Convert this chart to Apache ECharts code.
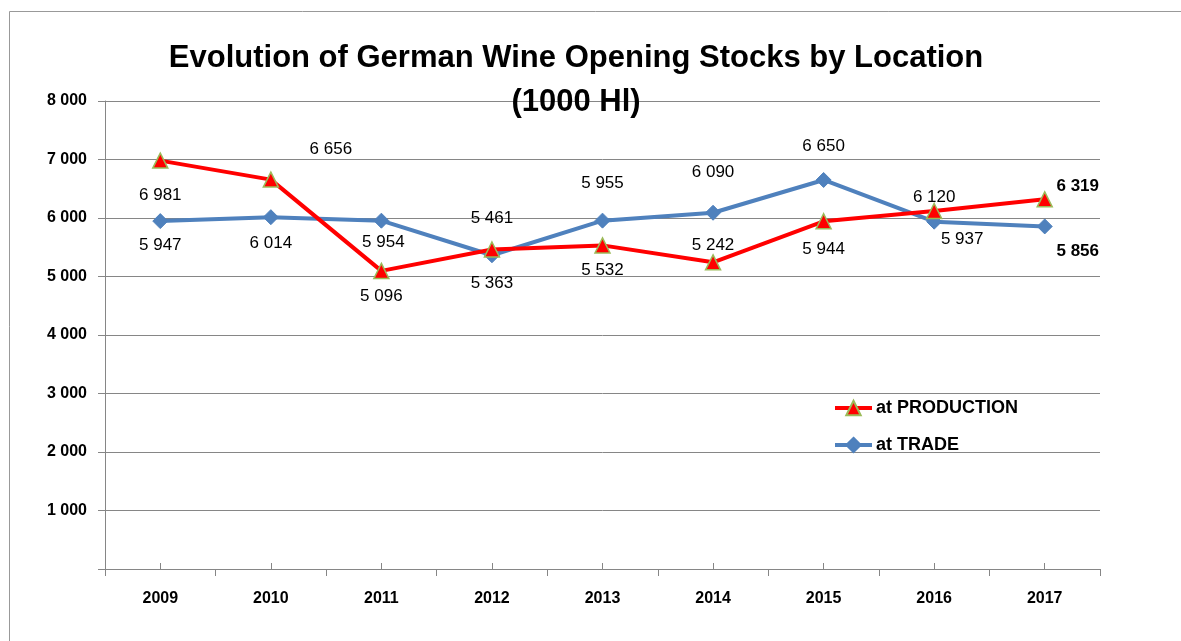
<!DOCTYPE html>
<html>
<head>
<meta charset="utf-8">
<script src="https://cdn.jsdelivr.net/npm/echarts@6/dist/echarts.min.js"></script>
<style>html,body{margin:0;padding:0;background:#fff;}#c{width:1181px;height:641px;}</style>
</head>
<body>
<div id="c"></div>
<script>
var years = ['2009','2010','2011','2012','2013','2014','2015','2016','2017'];
var production = [6981, 6656, 5096, 5461, 5532, 5242, 5944, 6120, 6319];
var trade = [5947, 6014, 5954, 5363, 5955, 6090, 6650, 5937, 5856];
var yTicks = [0, 1000, 2000, 3000, 4000, 5000, 6000, 7000, 8000];

// label offsets (style only)
var prodOff = [[0,35],[60,-30],[0,25],[0,-31],[0,25],[0,-17],[0,28],[0,-14],[33,-13]];
var tradeOff = [[0,24],[0,26],[2,22],[0,28],[0,-37],[0,-40],[0,-34],[28,18],[33,25]];

function fmt(v){ return String(v).replace(/\B(?=(\d{3})+(?!\d))/g,' '); }
var FONT = '"Liberation Sans", Arial, sans-serif';

function build(vals, offs){
  return vals.map(function(v,i){
    return {value: v, label: {show: true, position: 'inside', offset: offs[i],
      fontWeight: i === vals.length-1 ? 'bold' : 'normal',
      fontSize: 17, color: '#000', fontFamily: FONT, formatter: function(p){return fmt(p.value);}}};
  });
}

var chart = echarts.init(document.getElementById('c'));
chart.setOption({
  animation: false,
  backgroundColor: '#fff',
  graphic: [{type:'rect', shape:{x:9.5,y:11.5,width:1300,height:800}, style:{fill:'none', stroke:'#999', lineWidth:1}, z:-10}],
  title: {
    text: 'Evolution of German Wine Opening Stocks by Location\n(1000 Hl)',
    left: 571, top: 31, textAlign: 'center',
    textStyle: {fontSize: 31, fontWeight: 'bold', color: '#000', fontFamily: FONT, lineHeight: 44}
  },
  legend: {
    orient: 'vertical', left: 833, top: 399, padding: 0, itemWidth: 37, itemHeight: 18, itemGap: 19,
    textStyle: {fontSize: 18, fontWeight: 'bold', color: '#000', fontFamily: FONT, padding:[0,0,0,-1]},
    data: [
      {name: 'at PRODUCTION', lineStyle: {width: 4, color: '#FF0000'}},
      {name: 'at TRADE', lineStyle: {width: 4, color: '#4F81BD'}}
    ]
  },
  grid: {left: 105, right: 81, top: 101, bottom: 72},
  xAxis: [{
    type: 'category', data: years, boundaryGap: true,
    axisLine: {lineStyle: {color: '#868686', width: 1}},
    axisTick: {show: true, length: 7, lineStyle: {color: '#868686'}},
    axisLabel: {fontSize: 16, fontWeight: 'bold', color: '#000', fontFamily: FONT, margin: 22}
  },{
    type: 'category', data: years, boundaryGap: true, position: 'bottom',
    axisLine: {show: false},
    axisTick: {show: true, inside: true, alignWithLabel: true, length: 6, lineStyle: {color: '#868686'}},
    axisLabel: {show: false}
  }],
  yAxis: {
    type: 'value', min: 0, max: 8000, interval: 1000,
    axisLine: {show: true, lineStyle: {color: '#868686'}},
    axisTick: {show: true, length: 7, lineStyle: {color: '#868686'}},
    splitLine: {lineStyle: {color: '#868686', width: 1}},
    axisLabel: {fontSize: 16, fontWeight: 'bold', color: '#000', fontFamily: FONT, margin: 18,
      formatter: function(v){ return v === 0 ? '' : fmt(v); }}
  },
  series: [{
    name: 'at PRODUCTION', type: 'line', data: build(production, prodOff),
    symbol: 'triangle', symbolSize: 15,
    lineStyle: {color: '#FF0000', width: 4},
    itemStyle: {color: '#FF0000', borderColor: '#9BBB59', borderWidth: 1.5}, z: 3
  },{
    name: 'at TRADE', type: 'line', data: build(trade, tradeOff),
    symbol: 'diamond', symbolSize: 15,
    lineStyle: {color: '#4F81BD', width: 4},
    itemStyle: {color: '#4F81BD', borderColor: '#4F81BD', borderWidth: 1}, z: 2
  }]
});
</script>
</body>
</html>
